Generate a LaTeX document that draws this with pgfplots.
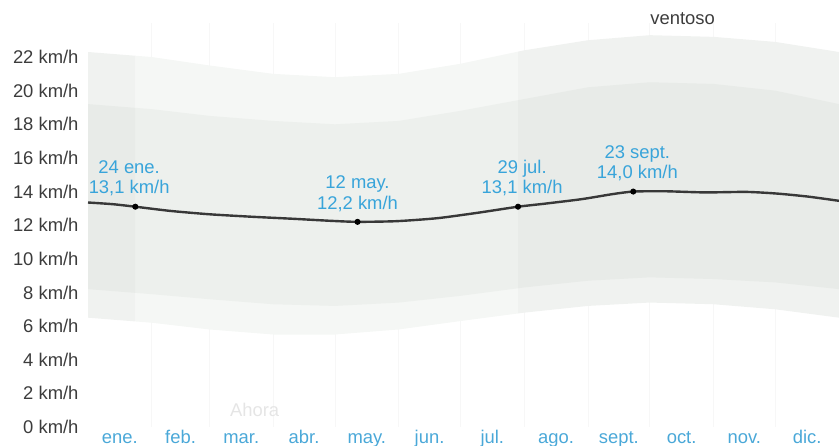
\documentclass[border=0pt]{standalone}
\usepackage{pgfplots}
\pgfplotsset{compat=1.18}
\usepackage{pgfplotstable}
\usepgfplotslibrary{fillbetween}
\usetikzlibrary{calc}
\usepackage{fontspec}
\setmainfont{Liberation Sans}
\definecolor{tickgrey}{HTML}{3C3C3C}
\definecolor{monthblue}{HTML}{4AA8D8}
\definecolor{annblue}{HTML}{38A4DA}
\definecolor{outerc}{HTML}{F5F7F5}
\definecolor{innerc}{HTML}{EDF0ED}
\definecolor{outerw}{HTML}{F0F2F0}
\definecolor{innerw}{HTML}{E8EBE8}
\definecolor{meanc}{HTML}{383838}

\pgfplotstableread{
day p10 p25 p75 p90
0   6.5 8.2 19.2 22.3
31  6.2 7.9 18.9 22.0
59  5.8 7.6 18.5 21.5
90  5.5 7.3 18.2 21.0
120 5.5 7.2 18.0 20.8
151 5.8 7.4 18.2 21.0
181 6.3 7.8 18.8 21.6
212 6.8 8.3 19.5 22.4
243 7.2 8.7 20.2 23.0
273 7.4 8.9 20.5 23.3
304 7.3 8.8 20.4 23.2
334 7.0 8.6 20.0 22.9
365 6.5 8.2 19.2 22.3
}\bands

\pgfplotstableread{
day mean
0   13.35
12  13.25
23  13.1
40  12.85
59  12.65
80  12.5
100 12.38
118 12.26
131 12.2
150 12.24
170 12.42
190 12.75
209 13.1
222 13.28
240 13.55
255 13.85
265 14.0
280 14.02
300 13.95
320 13.98
335 13.88
350 13.7
365 13.45
}\meanwind

\begin{document}
\fontsize{9.2}{11}\selectfont
\begin{tikzpicture}
\begin{axis}[
  name=ax,
  scale only axis,
  width=375.5pt, height=201.8pt,
  xmin=0, xmax=365, ymin=0, ymax=24,
  axis line style={draw=none},
  major tick length=0pt,
  xtick={15.5,45,74.5,105,135.5,166,196.5,227.5,258,288.5,319,349.5},
  xticklabels={ene.,feb.,mar.,abr.,may.,jun.,jul.,ago.,sept.,oct.,nov.,dic.},
  ytick={0,2,...,22},
  yticklabels={0 km/h,2 km/h,4 km/h,6 km/h,8 km/h,10 km/h,12 km/h,14 km/h,16 km/h,18 km/h,20 km/h,22 km/h},
  xticklabel style={font=\fontsize{9.2}{11}\selectfont, text=monthblue, anchor=base, yshift=-8pt},
  yticklabel style={font=\fontsize{9.2}{11}\selectfont, text=tickgrey, anchor=east, xshift=-1.5pt},
  extra x ticks={31,59,90,120,151,181,212,243,273,304,334},
  extra x tick labels={},
  extra x tick style={grid=major, major grid style={draw=black!3, line width=0.4pt}},
  clip=false,
]
\addplot[name path=p10, draw=none, forget plot] table[x=day, y=p10] {\bands};
\addplot[name path=p25, draw=none, forget plot] table[x=day, y=p25] {\bands};
\addplot[name path=p75, draw=none, forget plot] table[x=day, y=p75] {\bands};
\addplot[name path=p90, draw=none, forget plot] table[x=day, y=p90] {\bands};
\addplot[fill=outerc, draw=none] fill between[of=p90 and p10, soft clip={domain=23:209}];
\addplot[fill=outerw, draw=none] fill between[of=p90 and p10, soft clip={domain=209:365}];
\addplot[fill=outerw, draw=none] fill between[of=p90 and p10, soft clip={domain=0:23}];
\addplot[fill=innerc, draw=none] fill between[of=p75 and p25, soft clip={domain=23:209}];
\addplot[fill=innerw, draw=none] fill between[of=p75 and p25, soft clip={domain=209:365}];
\addplot[fill=innerw, draw=none] fill between[of=p75 and p25, soft clip={domain=0:23}];
\addplot[meanc, line width=1.2pt, smooth, tension=0.4] table[x=day, y=mean] {\meanwind};
\addplot[only marks, mark=*, mark size=1.3pt, black] coordinates {(23,13.1) (131,12.2) (209,13.1) (265,14.0)};
\node[text=annblue, align=center, anchor=south, inner sep=0pt, font=\fontsize{9.2}{10.3}\selectfont] at ($(axis cs:20,13.1)+(0,5pt)$) {24 ene.\\13,1 km/h};
\node[text=annblue, align=center, anchor=south, inner sep=0pt, font=\fontsize{9.2}{10.3}\selectfont] at ($(axis cs:131,12.2)+(0,5pt)$) {12 may.\\12,2 km/h};
\node[text=annblue, align=center, anchor=south, inner sep=0pt, font=\fontsize{9.2}{10.3}\selectfont] at ($(axis cs:211,13.1)+(0,5pt)$) {29 jul.\\13,1 km/h};
\node[text=annblue, align=center, anchor=south, inner sep=0pt, font=\fontsize{9.2}{10.3}\selectfont] at ($(axis cs:267,14.0)+(0,5pt)$) {23 sept.\\14,0 km/h};
\node[text=tickgrey, anchor=center, font=\fontsize{9.2}{11}\selectfont] at ($(axis cs:289,24)+(0,2.2pt)$) {ventoso};
\node[text=black!10, anchor=center, font=\fontsize{9.2}{11}\selectfont] at (axis cs:81,1.0) {Ahora};
\end{axis}
\pgfresetboundingbox
\path ($(ax.south west)+(-44pt,-9pt)$) rectangle ($(ax.north east)+(0,11.7pt)$);
\end{tikzpicture}
\end{document}
